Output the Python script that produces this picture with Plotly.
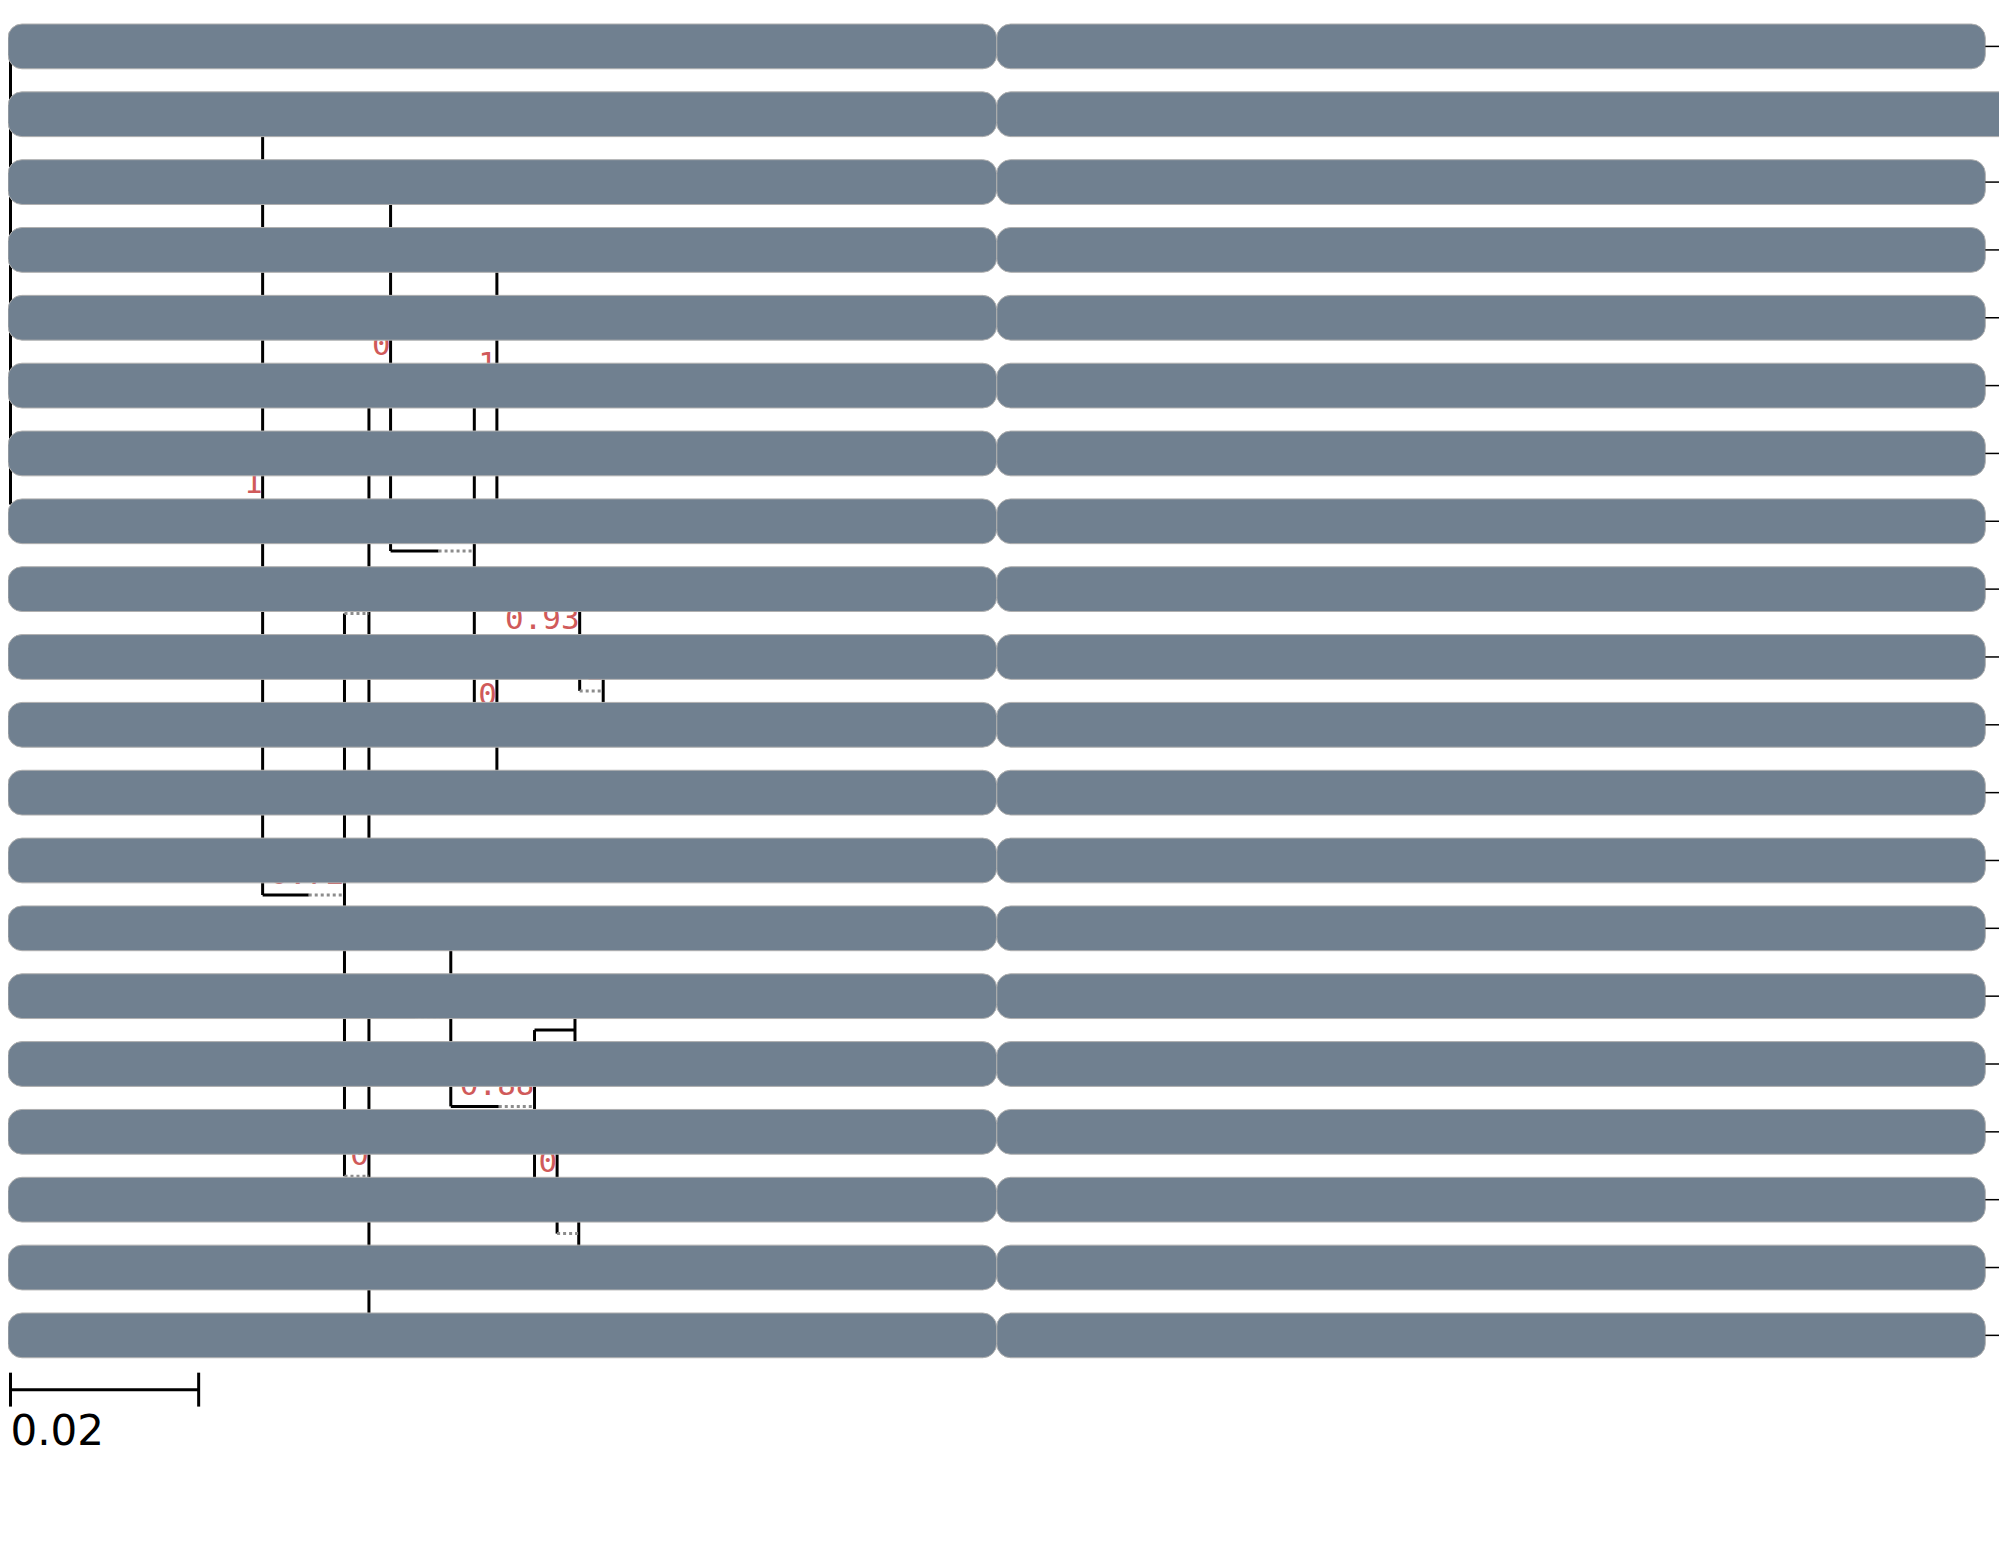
import plotly.graph_objects as go

# tree: node name, parent, depth from root (substitutions/site), support label
nodes = ["root", "90100074", "A", "90302004", "B", "C", "D", "91602874", "E", "F",
         "91204169", "91800814", "91903606", "92002754", "90904015", "G", "H", "90801182",
         "I", "90402534", "90501028", "91701020", "90702672", "J", "K", "90601654", "L",
         "M", "91400153", "91300153", "N", "91500921", "O", "91002350", "91102350", "90204039"]
parents = [None, "root", "root", "A", "A", "B", "C", "D", "D", "E",
           "F", "F", "F", "F", "F", "E", "G", "H",
           "H", "I", "I", "G", "C", "B", "J", "K", "K",
           "L", "M", "M", "L", "N", "N", "O", "O", "J"]
depths = [0.0, 0.0267, 0.0268, 0.0718, 0.0355, 0.0381, 0.0404, 0.0446, 0.0493, 0.0517,
          0.0517, 0.0517, 0.0517, 0.0517, 0.0517, 0.0517, 0.0605, 0.0650,
          0.0630, 0.0630, 0.0630, 0.0603, 0.0512, 0.0381, 0.0468, 0.0468, 0.0557,
          0.0600, 0.0600, 0.0600, 0.0581, 0.0626, 0.0604, 0.0604, 0.0604, 0.0468]
supports = {"A": "1", "B": "0.72", "C": "0", "D": "0", "E": "0.84", "F": "1", "G": "0",
            "H": "0.93", "I": "1", "J": "0", "K": "0.87", "L": "0.88", "M": "1", "N": "0", "O": "1"}
dotted_nodes = ["B", "C", "D", "E", "F", "G", "I", "J", "K", "L", "N", "O"]

leaves = ["90100074", "90302004", "91602874", "91204169", "91800814", "91903606", "92002754",
          "90904015", "90801182", "90402534", "90501028", "91701020", "90702672", "90601654",
          "91400153", "91300153", "91500921", "91002350", "91102350", "90204039"]
bar_values = [1.0, 1.015, 1.0, 1.0, 1.0, 1.0, 1.0, 1.0, 1.0, 1.0,
              1.0, 1.0, 1.0, 1.0, 1.0, 1.0, 1.0, 1.0, 1.0, 1.0]
bar_max = 1.015
scale_len = 0.02

depth = dict(zip(nodes, depths))
parent = dict(zip(nodes, parents))
children = {n: [c for c in nodes if parent[c] == n] for n in nodes}

ypos = {}
def get_y(n):
    if n in leaves:
        ypos[n] = leaves.index(n)
    else:
        ypos[n] = sum(get_y(c) for c in children[n]) / len(children[n])
    return ypos[n]
get_y("root")

DOT = 0.0038
sx, sy, dx, dy = [], [], [], []
for n in nodes:
    kids = children[n]
    if kids:
        ys = [ypos[c] for c in kids]
        sx += [depth[n], depth[n], None]
        sy += [min(ys), max(ys), None]
    p = parent[n]
    if p is None:
        continue
    x0, x1 = depth[p], depth[n]
    if n in dotted_nodes:
        xm = max(x0, x1 - DOT)
        if xm > x0:
            sx += [x0, xm, None]
            sy += [ypos[n], ypos[n], None]
        dx += [xm, x1, None]
        dy += [ypos[n], ypos[n], None]
    elif x1 > x0:
        sx += [x0, x1, None]
        sy += [ypos[n], ypos[n], None]

fig = go.Figure()
fig.add_trace(go.Scatter(x=sx, y=sy, mode="lines", line=dict(color="black", width=3),
                         hoverinfo="skip"))
fig.add_trace(go.Scatter(x=dx, y=dy, mode="lines", line=dict(color="#8c8c8c", width=3, dash="dot"),
                         hoverinfo="skip"))

# tip labels
fig.add_trace(go.Scatter(
    x=[depth[l] for l in leaves], y=[ypos[l] for l in leaves], mode="text",
    text=["<i>%s</i>" % l for l in leaves], textposition="middle right",
    textfont=dict(family="Liberation Sans", size=48, color="#444444")))

# support labels
sup_nodes = list(supports.keys())
fig.add_trace(go.Scatter(
    x=[depth[n] for n in sup_nodes], y=[ypos[n] - 0.05 for n in sup_nodes], mode="text",
    text=[supports[n] for n in sup_nodes], textposition="top left",
    textfont=dict(family="DejaVu Sans Mono", size=31, color="#d05a5a")))

# scale bar
sb_y = 19.8
fig.add_trace(go.Scatter(x=[0, scale_len, None, 0, 0, None, scale_len, scale_len],
                         y=[sb_y, sb_y, None, sb_y - 0.25, sb_y + 0.25, None, sb_y - 0.25, sb_y + 0.25],
                         mode="lines", line=dict(color="black", width=3), hoverinfo="skip"))
fig.add_trace(go.Scatter(x=[0], y=[sb_y + 0.35], mode="text", text=["%.2f" % scale_len],
                         textposition="bottom right",
                         textfont=dict(family="DejaVu Sans", size=42, color="black")))

# bar panel: two halves so every corner is rounded
idx = list(range(len(leaves)))
mid = 0.5
fig.add_trace(go.Bar(x=[v - mid for v in bar_values], y=idx, base=mid, orientation="h",
                     xaxis="x2", width=0.66, marker=dict(color="#708090", line=dict(color="#b0b0b0", width=1)),
                     hoverinfo="skip"))
fig.add_trace(go.Bar(x=[-mid] * len(idx), y=idx, base=mid, orientation="h",
                     xaxis="x2", width=0.66, marker=dict(color="#708090", line=dict(color="#b0b0b0", width=1)),
                     hoverinfo="skip"))
wx, wy = [], []
for i, v in enumerate(bar_values):
    if v < bar_max:
        wx += [v, bar_max, None]
        wy += [i, i, None]
fig.add_trace(go.Scatter(x=wx, y=wy, xaxis="x2", mode="lines",
                         line=dict(color="black", width=1.5), hoverinfo="skip"))

W, H = 2007, 1554
px_per_unit = 9408
x0_px = 2.5
row0, row_h = 38.4, 67.84
fig.update_layout(
    width=W, height=H, margin=dict(l=0, r=0, t=0, b=0),
    plot_bgcolor="white", paper_bgcolor="white", showlegend=False,
    barmode="overlay", barcornerradius=14,
    xaxis=dict(range=[-x0_px / px_per_unit, (W - x0_px) / px_per_unit], domain=[0, 1],
               visible=False),
    xaxis2=dict(range=[0, bar_max], domain=[918 / W, 2003 / W], anchor="y", overlaying="x",
                visible=False),
    yaxis=dict(range=[(H - row0) / row_h, -row0 / row_h], visible=False),
)

fig.write_html("out.html")
